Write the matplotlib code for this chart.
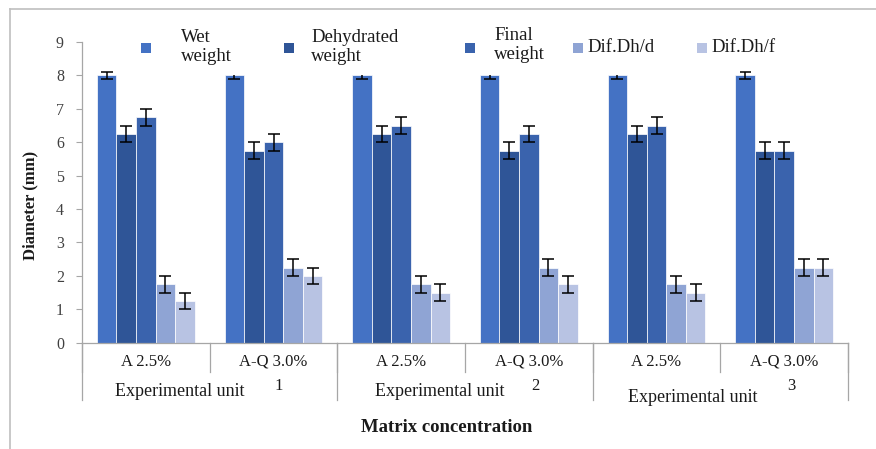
import matplotlib
matplotlib.use("Agg")
import matplotlib.pyplot as plt
from matplotlib.lines import Line2D
from matplotlib.patches import Rectangle
import numpy as np

# ---- data ----
categories = ["A 2.5%", "A-Q 3.0%", "A 2.5%", "A-Q 3.0%", "A 2.5%", "A-Q 3.0%"]
units = ["1", "2", "3"]
unit_label = "Experimental unit"
series_names = ["Wet\nweight", "Dehydrated\nweight", "Final\nweight", "Dif.Dh/d", "Dif.Dh/f"]
wet_weight = [8.0, 8.0, 8.0, 8.0, 8.0, 8.0]
dehydrated_weight = [6.25, 5.75, 6.25, 5.75, 6.25, 5.75]
final_weight = [6.75, 6.0, 6.5, 6.25, 6.5, 5.75]
dif_dh_d = [1.75, 2.25, 1.75, 2.25, 1.75, 2.25]
dif_dh_f = [1.25, 2.0, 1.5, 1.75, 1.5, 2.25]
err_wet = [0.1] * 6
err_other = [0.25] * 6
y_ticks = list(range(0, 10))

series = [wet_weight, dehydrated_weight, final_weight, dif_dh_d, dif_dh_f]
errors = [err_wet, err_other, err_other, err_other, err_other]
colors = ["#4472C4", "#2F5597", "#3A63AD", "#8FA4D4", "#B8C3E3"]

W, H = 876, 449
fig = plt.figure(figsize=(W / 100, H / 100), dpi=100)
plt.rcParams['font.family'] = ['Liberation Serif', 'DejaVu Serif']

def fx(x):
    return x / W

def fy(y):
    return 1 - y / H

ax_l, ax_r, ax_t, ax_b = 82, 848, 42, 342.7
ax = fig.add_axes([fx(ax_l), fy(ax_b), (ax_r - ax_l) / W, (ax_b - ax_t) / H])

x = np.arange(len(categories))
bw = 0.1535
for i, (vals, errs, c) in enumerate(zip(series, errors, colors)):
    ax.bar(x + (i - 2) * bw, vals, width=bw, color=c, edgecolor="white",
           linewidth=0.5, yerr=errs, capsize=4,
           error_kw=dict(ecolor="black", elinewidth=1.1, capthick=1.1), zorder=2)

ax.set_xlim(-0.5, len(categories) - 0.5)
ax.set_ylim(0, 9)
ax.set_yticks(y_ticks)
ax.set_yticklabels([str(t) for t in y_ticks], fontsize=11.5, color="#404040")
ax.tick_params(axis="y", length=4, color="#A6A6A6", width=0.8, pad=9)
ax.set_xticks(x)
ax.set_xticklabels(categories, fontsize=12, color="#1a1a1a")
ax.tick_params(axis="x", length=0, pad=8)
for s in ["top", "right"]:
    ax.spines[s].set_visible(False)
for s in ["left", "bottom"]:
    ax.spines[s].set_color("#A6A6A6")
    ax.spines[s].set_linewidth(0.9)

# multi-level category separators
axh = ax_b - ax_t
y1 = -(372 - ax_b) / axh
y2 = -(400 - ax_b) / axh
trans = ax.get_xaxis_transform()
for b in np.arange(-0.5, len(categories), 1.0):
    ax.add_line(Line2D([b, b], [0, y1], transform=trans, color="#A6A6A6",
                       lw=0.9, clip_on=False))
for b in [-0.5, 1.5, 3.5, 5.5]:
    ax.add_line(Line2D([b, b], [0, y2], transform=trans, color="#A6A6A6",
                       lw=0.9, clip_on=False))

# second level labels
unit_text_pos = [(180, 391), (440, 391), (693, 397)]
unit_num_pos = [(279, 386), (535, 386), (791, 386)]
for u, (tx, ty), (nx, ny) in zip(units, unit_text_pos, unit_num_pos):
    fig.text(fx(tx), fy(ty), unit_label, ha="center", va="center", fontsize=13, color="#1a1a1a")
    fig.text(fx(nx), fy(ny), u, ha="center", va="center", fontsize=12, color="#1a1a1a")

# axis titles
fig.text(fx(30), fy(205), "Diameter (mm)", rotation=90, ha="center", va="center",
         fontsize=12, fontweight="bold", color="#1a1a1a")
fig.text(fx(447), fy(427), "Matrix concentration", ha="center", va="center",
         fontsize=13.5, fontweight="bold", color="#1a1a1a")

# legend (manual layout)
fig.patches.append(Rectangle((fx(120), fy(75)), fx(740) - fx(120), (75 - 22) / H,
                             transform=fig.transFigure, facecolor="white",
                             edgecolor="none", zorder=3))
marker_x = [146, 289, 470, 578, 702]
text_x = [181, 311, 494, 587, 711]
text_y = [47, 47, 45, 48, 48]
ms = 10
for name, c, mx, tx, ty in zip(series_names, colors, marker_x, text_x, text_y):
    fig.patches.append(Rectangle((fx(mx - ms / 2), fy(48 + ms / 2)), ms / W, ms / H,
                                 transform=fig.transFigure, facecolor=c,
                                 edgecolor="none", zorder=4))
    fig.text(fx(tx), fy(ty), name, ha="left", va="center", fontsize=13.5,
             color="#1a1a1a", linespacing=1.1, zorder=5)

# outer chart frame
fig.add_artist(Line2D([fx(10), fx(10)], [fy(9), 0], transform=fig.transFigure,
                      color="#BFBFBF", lw=1.2))
fig.add_artist(Line2D([fx(10), 1], [fy(9), fy(9)], transform=fig.transFigure,
                      color="#BFBFBF", lw=1.2))

fig.savefig("out.png", dpi=100)
